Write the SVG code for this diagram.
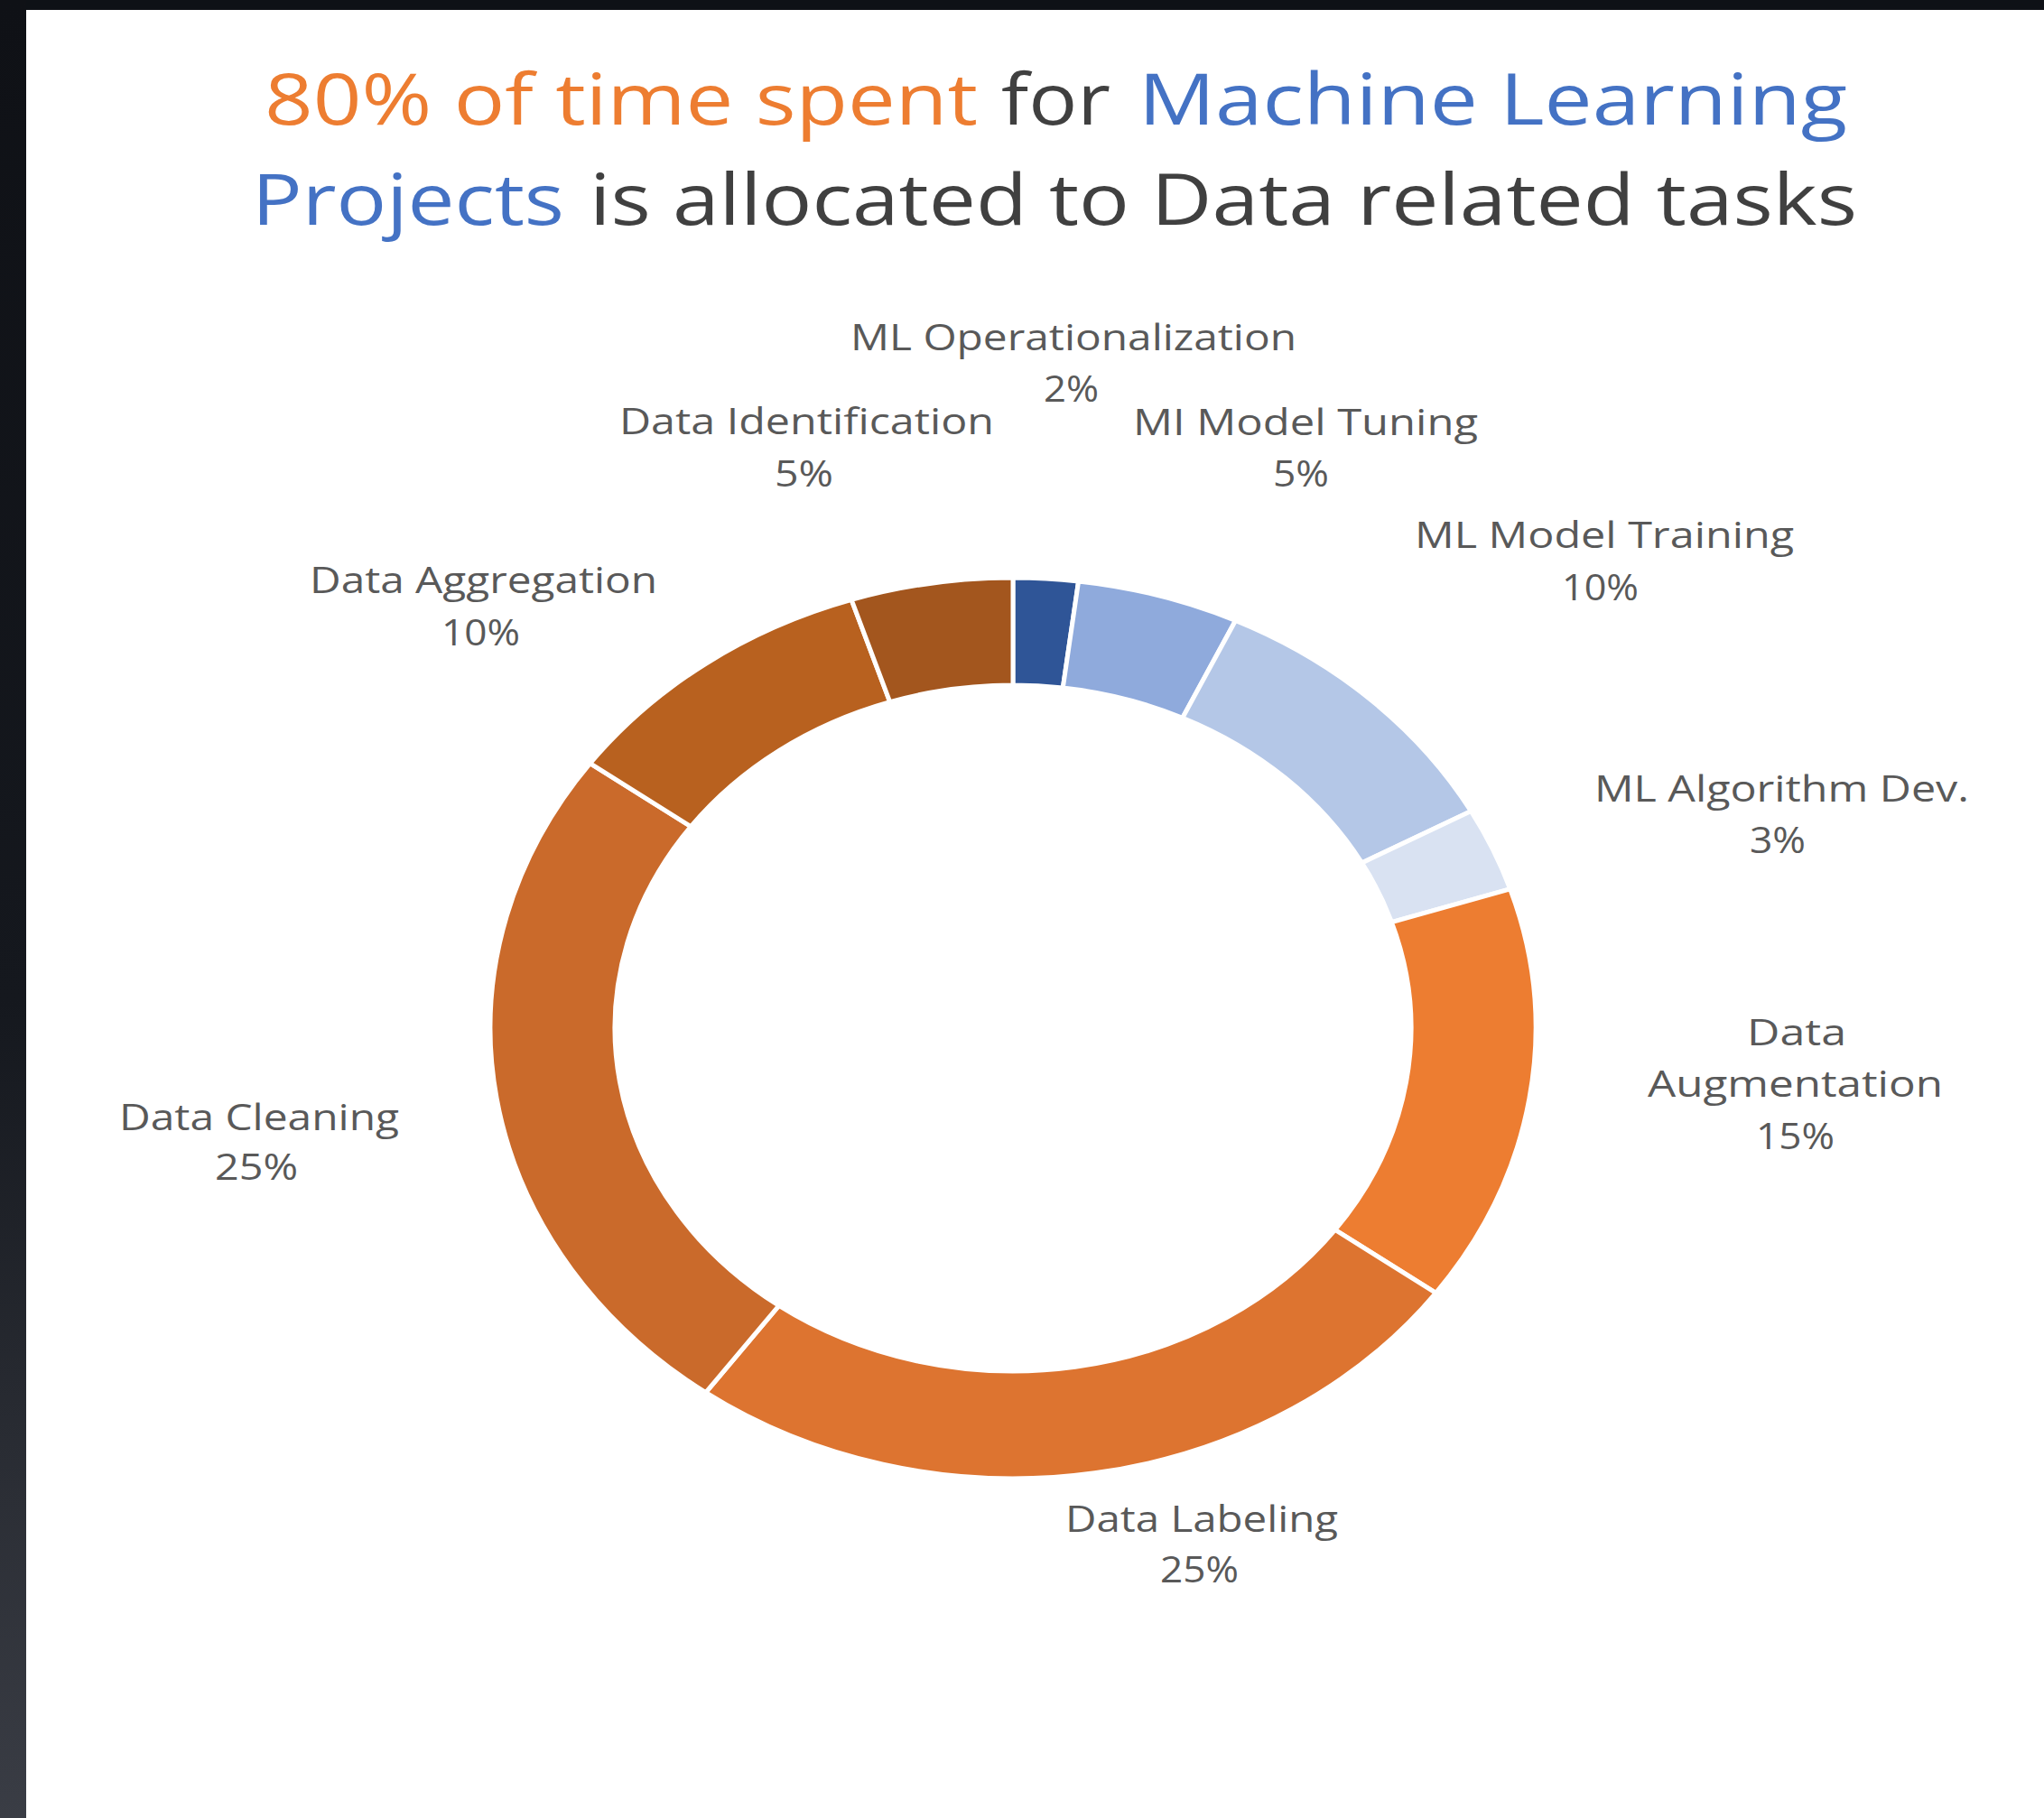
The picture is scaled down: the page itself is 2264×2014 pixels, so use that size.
<svg xmlns="http://www.w3.org/2000/svg" width="2264" height="2014" viewBox="0 0 2264 2014">
  <defs>
    <linearGradient id="edge" x1="0" y1="0" x2="0" y2="1">
      <stop offset="0" stop-color="#0f1116"/>
      <stop offset="0.55" stop-color="#15181e"/>
      <stop offset="1" stop-color="#3a3d45"/>
    </linearGradient>
    <style>
      .ttl { font-family: "Open Sans", "Noto Sans", "Liberation Sans", sans-serif; font-size: 78px; }
      .org { fill: #ED7D31; }
      .gry { fill: #404040; }
      .blu { fill: #4472C4; }
      .lbl { font-family: "Open Sans", "Noto Sans", "Liberation Sans", sans-serif; font-size: 40px; fill: #595959; }
      .seg { stroke: #ffffff; stroke-width: 5; stroke-linejoin: miter; }
    </style>
  </defs>

  <rect x="0" y="0" width="2264" height="2014" fill="#ffffff"/>
  <rect x="0" y="0" width="2264" height="11" fill="#0e1116"/>
  <rect x="0" y="0" width="29" height="2014" fill="url(#edge)"/>

  <g id="title">
    <text class="ttl org" x="293" y="138" textLength="790" lengthAdjust="spacingAndGlyphs">80% of time spent</text>
    <text class="ttl gry" x="1109" y="138" textLength="121" lengthAdjust="spacingAndGlyphs">for</text>
    <text class="ttl blu" x="1261" y="138" textLength="785" lengthAdjust="spacingAndGlyphs">Machine Learning</text>
    <text class="ttl blu" x="279" y="249" textLength="346" lengthAdjust="spacingAndGlyphs">Projects</text>
    <text class="ttl gry" x="653" y="249" textLength="1404" lengthAdjust="spacingAndGlyphs">is allocated to Data related tasks</text>
  </g>

  <g id="donut">
    <g id="seg-ml-operationalization">
      <path class="seg" fill="#2F5597" d="M1122,640 A579,499 0 0 1 1194.6,643.9 L1177.3,762 A441,380 0 0 0 1122,759 Z"/>
      <text class="lbl" x="942" y="388" textLength="494" lengthAdjust="spacingAndGlyphs">ML Operationalization</text>
      <text class="lbl" x="1156" y="445" textLength="61" lengthAdjust="spacingAndGlyphs">2%</text>
    </g>
    <g id="seg-ml-model-tuning">
      <path class="seg" fill="#8FAADC" d="M1194.6,643.9 A579,499 0 0 1 1368.5,687.5 L1309.8,795.2 A441,380 0 0 0 1177.3,762 Z"/>
      <text class="lbl" x="1255" y="482" textLength="382" lengthAdjust="spacingAndGlyphs">MI Model Tuning</text>
      <text class="lbl" x="1410" y="539" textLength="62" lengthAdjust="spacingAndGlyphs">5%</text>
    </g>
    <g id="seg-ml-model-training">
      <path class="seg" fill="#B4C7E7" d="M1368.5,687.5 A579,499 0 0 1 1629.4,898.6 L1508.5,955.9 A441,380 0 0 0 1309.8,795.2 Z"/>
      <text class="lbl" x="1567" y="607" textLength="420" lengthAdjust="spacingAndGlyphs">ML Model Training</text>
      <text class="lbl" x="1730" y="665" textLength="85" lengthAdjust="spacingAndGlyphs">10%</text>
    </g>
    <g id="seg-ml-algorithm-dev">
      <path class="seg" fill="#D9E2F2" d="M1629.4,898.6 A579,499 0 0 1 1672.7,984.8 L1541.4,1021.6 A441,380 0 0 0 1508.5,955.9 Z"/>
      <text class="lbl" x="1766" y="888" textLength="415" lengthAdjust="spacingAndGlyphs">ML Algorithm Dev.</text>
      <text class="lbl" x="1938" y="945" textLength="62" lengthAdjust="spacingAndGlyphs">3%</text>
    </g>
    <g id="seg-data-augmentation">
      <path class="seg" fill="#ED7D31" d="M1672.7,984.8 A579,499 0 0 1 1590.4,1432.3 L1478.8,1362.4 A441,380 0 0 0 1541.4,1021.6 Z"/>
      <text class="lbl" x="1935" y="1158" textLength="110" lengthAdjust="spacingAndGlyphs">Data</text>
      <text class="lbl" x="1825" y="1215" textLength="327" lengthAdjust="spacingAndGlyphs">Augmentation</text>
      <text class="lbl" x="1945" y="1273" textLength="87" lengthAdjust="spacingAndGlyphs">15%</text>
    </g>
    <g id="seg-data-labeling">
      <path class="seg" fill="#DD7430" d="M1590.4,1432.3 A579,499 0 0 1 781.7,1542.7 L862.8,1446.4 A441,380 0 0 0 1478.8,1362.4 Z"/>
      <text class="lbl" x="1180" y="1697" textLength="302" lengthAdjust="spacingAndGlyphs">Data Labeling</text>
      <text class="lbl" x="1285" y="1753" textLength="87" lengthAdjust="spacingAndGlyphs">25%</text>
    </g>
    <g id="seg-data-cleaning">
      <path class="seg" fill="#CA6A2B" d="M781.7,1542.7 A579,499 0 0 1 653.6,845.7 L765.2,915.6 A441,380 0 0 0 862.8,1446.4 Z"/>
      <text class="lbl" x="132" y="1252" textLength="310" lengthAdjust="spacingAndGlyphs">Data Cleaning</text>
      <text class="lbl" x="238" y="1307" textLength="92" lengthAdjust="spacingAndGlyphs">25%</text>
    </g>
    <g id="seg-data-aggregation">
      <path class="seg" fill="#B8611F" d="M653.6,845.7 A579,499 0 0 1 943.1,664.4 L985.7,777.6 A441,380 0 0 0 765.2,915.6 Z"/>
      <text class="lbl" x="343" y="657" textLength="385" lengthAdjust="spacingAndGlyphs">Data Aggregation</text>
      <text class="lbl" x="489" y="715" textLength="87" lengthAdjust="spacingAndGlyphs">10%</text>
    </g>
    <g id="seg-data-identification">
      <path class="seg" fill="#A3561E" d="M943.1,664.4 A579,499 0 0 1 1122,640 L1122,759 A441,380 0 0 0 985.7,777.6 Z"/>
      <text class="lbl" x="686" y="481" textLength="415" lengthAdjust="spacingAndGlyphs">Data Identification</text>
      <text class="lbl" x="858" y="539" textLength="65" lengthAdjust="spacingAndGlyphs">5%</text>
    </g>
  </g>
  <g id="connectors"/>
</svg>
